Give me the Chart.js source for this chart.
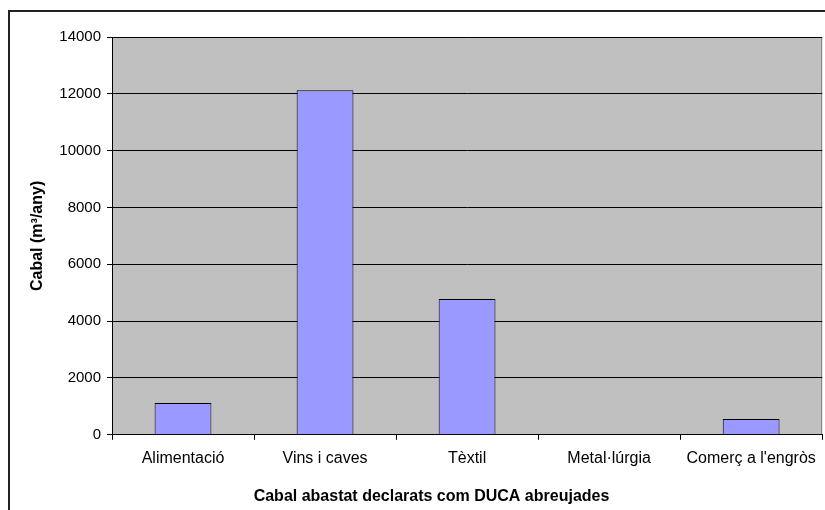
<!DOCTYPE html>
<html>
<head>
<meta charset="utf-8">
<script src="https://cdn.jsdelivr.net/npm/chart.js@4"></script>
<style>
  html, body { margin: 0; padding: 0; background: #fff; }
  #wrap { width: 825px; height: 510px; position: relative; }
</style>
</head>
<body>
<div id="wrap"><canvas id="cabalChart"></canvas></div>
<script>
const categories = ['Alimentació', 'Vins i caves', 'Tèxtil', 'Metal·lúrgia', "Comerç a l'engròs"];
const cabal = [1120, 12130, 4780, 0, 555];
const yMax = 14000;
const yStep = 2000;

// fons gris de l'àrea de dibuix i marc exterior
const frame = {
    id: 'frame',
    beforeDraw(chart) {
        const c = chart.ctx;
        const a = chart.chartArea;
        c.save();
        c.fillStyle = '#C0C0C0';
        c.fillRect(a.left, a.top, a.right - a.left, a.bottom - a.top);
        c.strokeStyle = '#808080';
        c.lineWidth = 1;
        c.beginPath();
        c.moveTo(a.left, a.top + 0.5);
        c.lineTo(a.right - 0.5, a.top + 0.5);
        c.lineTo(a.right - 0.5, a.bottom);
        c.stroke();
        c.strokeStyle = '#222';
        c.lineWidth = 2;
        c.beginPath();
        c.moveTo(9, 510);
        c.lineTo(9, 11);
        c.lineTo(825, 11);
        c.stroke();
        c.restore();
    }
};

new Chart(document.getElementById('cabalChart'), {
    type: 'bar',
    data: {
        labels: categories,
        datasets: [{
            data: cabal,
            backgroundColor: '#9999FF',
            borderColor: '#000',
            borderWidth: 1,
            barPercentage: 0.4,
            categoryPercentage: 1
        }]
    },
    options: {
        responsive: true,
        maintainAspectRatio: false,
        animation: false,
        layout: { padding: { left: 40, top: 37, right: 2, bottom: 0 } },
        plugins: {
            legend: { display: false },
            tooltip: { enabled: false },
            title: {
                display: true,
                position: 'bottom',
                text: 'Cabal abastat declarats com DUCA abreujades',
                color: '#000',
                padding: { top: 0, bottom: 4 },
                font: { family: 'Liberation Sans', size: 16, weight: 'bold' }
            }
        },
        scales: {
            x: {
                grid: {
                    offset: true,
                    drawOnChartArea: false,
                    color: '#000',
                    tickLength: 5
                },
                border: { color: '#000', width: 1 },
                ticks: {
                    color: '#000',
                    padding: 9,
                    maxRotation: 0,
                    font: { family: 'Liberation Sans', size: 16 }
                },
                afterFit(scale) { scale.height = 52; }
            },
            y: {
                min: 0,
                max: yMax,
                grid: {
                    color: '#000',
                    tickLength: 5
                },
                border: { color: '#000', width: 1 },
                ticks: {
                    stepSize: yStep,
                    color: '#000',
                    padding: 6,
                    font: { family: 'Liberation Sans', size: 15 },
                    callback: v => String(v)
                },
                title: {
                    display: true,
                    text: 'Cabal (m³/any)',
                    color: '#000',
                    padding: { top: -12, bottom: 0 },
                    font: { family: 'Liberation Sans', size: 16, weight: 'bold' }
                },
                afterFit(scale) { scale.width = 72; }
            }
        }
    },
    plugins: [frame]
});
</script>
</body>
</html>
